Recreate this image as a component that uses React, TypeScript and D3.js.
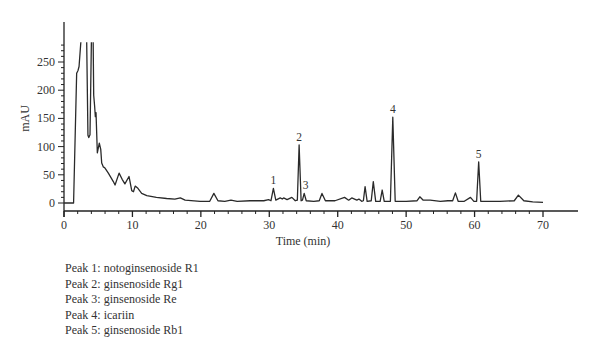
import React from "react";
import * as d3 from "d3";

// Chromatogram trace: retention time (min) and absorbance (mAU)
// (values of 300 mark the saturated, off-scale parts of the trace)
const times: number[] = [
  0, 1.4, 1.85, 2.05, 2.2, 2.55, 3.3, 3.5, 3.62, 3.8, 4.02, 4.25, 4.34, 4.48, 4.58, 4.68, 4.87, 5.16, 5.37,
  5.51, 5.75, 5.99, 6.48, 7.21, 7.46, 8.05, 8.5, 8.9, 9.5, 9.9, 10.15, 10.4, 10.8, 11.35, 12.1, 13.5,
  15, 16.2, 17, 17.7, 19.9, 21.3, 21.9, 22.5, 23.5, 24.4, 25.3, 27.2, 29.2, 29.9, 30.25, 30.6, 30.95,
  31.6, 31.9, 32.1, 32.6, 33.3, 33.8, 34.1, 34.36, 34.65, 34.85, 35.1, 35.4, 36.5, 37.3, 37.7, 38.2,
  39.6, 41.0, 41.6, 42.05, 42.8, 43.1, 43.5, 43.75, 44.0, 44.3, 44.9, 45.2, 45.55, 46.2, 46.5, 46.8,
  47.7, 48.05, 48.4, 50, 51.6, 52.0, 52.5, 53.5, 55.0, 56.1, 56.8, 57.2, 57.6, 58.5, 59.4, 59.9, 60.3,
  60.6, 60.9, 62, 63.7, 65.8, 66.4, 67.2, 68.5, 70.0
];
const values: number[] = [
  0, 0, 230, 235, 242, 300, 300, 120, 116, 121, 300, 300, 191, 171, 153, 160, 89, 106, 95,
  71, 64, 62, 53, 38, 32, 53, 42, 34, 47, 22, 20, 30, 26, 17, 13, 10,
  8, 7, 9, 5, 3, 3, 17, 4, 3, 5, 3, 4, 4, 6, 4, 26, 5,
  9, 7, 9, 6, 10, 4, 5, 103, 4, 5, 17, 4, 3, 4, 17, 4,
  4, 10, 5, 9, 5, 7, 3, 4, 29, 3, 4, 38, 3, 3, 23, 3,
  3, 152, 3, 3, 4, 11, 5, 5, 3, 4, 4, 18, 3, 3, 10, 3, 3,
  73, 3, 3, 3, 4, 14, 4, 2, 1
];

// Peak annotations
const peakLabels: string[] = ["1", "2", "3", "4", "5"];
const peakTimes: number[] = [30.6, 34.36, 35.3, 48.05, 60.6];
const peakValues: number[] = [26, 103, 17, 152, 73];

const xTicks: number[] = [0, 10, 20, 30, 40, 50, 60, 70];
const yTicks: number[] = [0, 50, 100, 150, 200, 250];

const legendLines: string[] = [
  "Peak 1: notoginsenoside R1",
  "Peak 2: ginsenoside Rg1",
  "Peak 3: ginsenoside Re",
  "Peak 4: icariin",
  "Peak 5: ginsenoside Rb1",
];

const FONT = "'Liberation Serif', 'DejaVu Serif', serif";

export default function App() {
  const W = 600;
  const H = 358;
  const x = d3.scaleLinear().domain([0, 70]).range([64, 543]);
  const y = d3.scaleLinear().domain([0, 250]).range([203, 62]);
  const axisY = 211;
  const axisRight = 578;
  const clipTop = y(285);

  const pts: [number, number][] = times.map((t, i) => [t, values[i]]);
  const line = d3
    .line<[number, number]>()
    .x((d) => x(d[0]))
    .y((d) => y(d[1]))
    .curve(d3.curveLinear);

  const minorX = d3.range(0, 70.001, 2);
  const minorY = d3.range(0, 280.001, 10);

  return (
    <svg width={W} height={H} style={{ position: "absolute", left: 0, top: 0, background: "#fff" }}>
      <defs>
        <clipPath id="plotclip">
          <rect x={x(0)} y={clipTop} width={axisRight - x(0)} height={axisY - clipTop} />
        </clipPath>
      </defs>
      <rect x={0} y={0} width={W} height={H} fill="#fff" />
      {/* x axis */}
      <line x1={x(0)} x2={axisRight} y1={axisY} y2={axisY} stroke="#222" strokeWidth={1.3} />
      {minorX.map((t) => {
        const major = t % 10 === 0;
        return (
          <line key={"xt" + t} x1={x(t)} x2={x(t)} y1={axisY} y2={axisY + (major ? 6 : 3)} stroke="#222" strokeWidth={major ? 1.3 : 1} />
        );
      })}
      {xTicks.map((t) => (
        <text key={"xl" + t} x={x(t)} y={axisY + 18} fontSize={12} fontFamily={FONT} fill="#333" textAnchor="middle">
          {t}
        </text>
      ))}
      <text x={303} y={245} fontSize={12} fontFamily={FONT} fill="#333" textAnchor="middle">
        Time (min)
      </text>

      {/* y axis */}
      <line x1={x(0)} x2={x(0)} y1={22} y2={axisY + 6} stroke="#222" strokeWidth={1.3} />
      {minorY.map((v) => {
        const major = v % 50 === 0;
        return (
          <line key={"yt" + v} x1={x(0) - (major ? 6 : 3)} x2={x(0)} y1={y(v)} y2={y(v)} stroke="#222" strokeWidth={1} />
        );
      })}
      {yTicks.map((v) => (
        <text key={"yl" + v} x={55} y={y(v) + 4} fontSize={12} fontFamily={FONT} fill="#333" textAnchor="end">
          {v}
        </text>
      ))}
      <text
        transform={`translate(29,${y(150)}) rotate(-90)`}
        fontSize={12}
        fontFamily={FONT}
        fill="#333"
        textAnchor="middle"
      >
        mAU
      </text>

      {/* trace */}
      <path
        d={line(pts) || ""}
        fill="none"
        stroke="#2a2a2a"
        strokeWidth={1.3}
        strokeLinejoin="round"
        clipPath="url(#plotclip)"
      />

      {/* peak labels */}
      {peakLabels.map((lab, i) => (
        <text
          key={"pk" + lab}
          x={x(peakTimes[i])}
          y={y(peakValues[i]) - 4}
          fontSize={11.5}
          fontFamily={FONT}
          fill="#333"
          textAnchor="middle"
        >
          {lab}
        </text>
      ))}

      {/* legend text */}
      {legendLines.map((s, i) => (
        <text key={"lg" + i} x={65} y={272 + i * 15.5} fontSize={12} fontFamily={FONT} fill="#333">
          {s}
        </text>
      ))}
    </svg>
  );
}
